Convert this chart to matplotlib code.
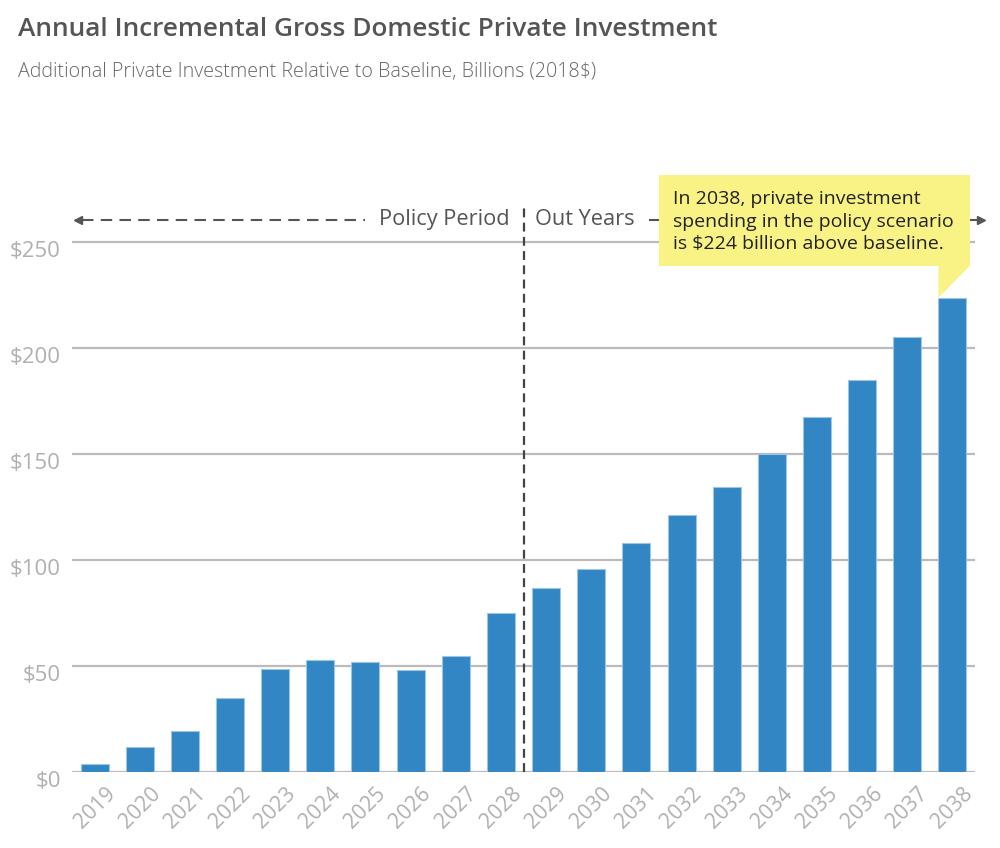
import matplotlib
matplotlib.use("Agg")
import matplotlib.pyplot as plt
from matplotlib.patches import Polygon, Rectangle
import matplotlib.transforms as mtransforms

plt.rcParams['font.family'] = ['Open Sans', 'DejaVu Sans']

years = [str(y) for y in range(2019, 2039)]
values = [3.8, 11.6, 19.2, 34.7, 48.6, 52.7, 51.9, 48.1, 54.8, 74.9,
          86.7, 95.8, 108.0, 121.1, 134.3, 149.8, 167.6, 185.1, 205.2, 223.7]
yticks = [0, 50, 100, 150, 200, 250]
ytick_labels = ['$0', '$50', '$100', '$150', '$200', '$250']

title = "Annual Incremental Gross Domestic Private Investment"
subtitle = "Additional Private Investment Relative to Baseline, Billions (2018$)"
callout = "In 2038, private investment\nspending in the policy scenario\nis $224 billion above baseline."

W, H = 1000, 848
fig = plt.figure(figsize=(W / 100, H / 100), dpi=100)
left_px, right_px, bottom_px = 72, 975, 772
ymax = 300
ppu = 2.12
top_px = bottom_px - ymax * ppu
ax = fig.add_axes([left_px / W, 1 - bottom_px / H, (right_px - left_px) / W, (bottom_px - top_px) / H])

x = list(range(len(years)))
ax.bar(x, values, width=0.62, color='#3186c3', edgecolor='#9cc5e6', linewidth=0.8, zorder=3)
ax.set_xlim(-0.5, len(years) - 0.5)
ax.set_ylim(0, ymax)
ax.set_yticks(yticks)
ax.set_yticklabels(ytick_labels)
ax.set_xticks(x)
ax.set_xticklabels(years, rotation=45, ha='right', rotation_mode='anchor')
ax.tick_params(axis='y', length=0, labelsize=16, labelcolor='#b0b0b0', pad=8)
ax.tick_params(axis='x', length=0, labelsize=15.3, labelcolor='#b0b0b0', pad=8)
shift = mtransforms.ScaledTranslation(0, -7 / 100, fig.dpi_scale_trans)
for lbl in ax.get_yticklabels():
    lbl.set_transform(lbl.get_transform() + shift)
xshift = mtransforms.ScaledTranslation(10 / 100, 0, fig.dpi_scale_trans)
for lbl in ax.get_xticklabels():
    lbl.set_transform(lbl.get_transform() + xshift)
for s in ax.spines.values():
    s.set_visible(False)
for t in yticks:
    ax.axhline(t, color='#bbbbbb', lw=1.6, zorder=1)

# divider
div = 9.5
ax.plot([div, div], [0, 266], ls=(0, (4.0, 2.4)), color='#444444', lw=1.6, zorder=4)

# arrows
ya = 260.4
dash = (0, (5.5, 3.5))
ax.plot([-0.28, 6.0], [ya, ya], ls=dash, color='#555555', lw=1.5, zorder=4, clip_on=False)
ax.plot([-0.36], [ya], marker='<', ms=6, color='#555555', clip_on=False, zorder=4)
ax.text(9.2, ya, "Policy Period", ha='right', va='center', fontsize=15.7, color='#555555')
ax.text(9.76, ya, "Out Years", ha='left', va='center', fontsize=15.7, color='#555555')
ax.plot([12.3, 12.5], [ya, ya], color='#555555', lw=1.5, zorder=4, clip_on=False)
ax.plot([19.4, 19.6], [ya, ya], color='#555555', lw=1.5, zorder=4, clip_on=False)
ax.plot([19.64], [ya], marker='>', ms=6, color='#555555', clip_on=False, zorder=4)

# callout box
bx0, bx1 = 12.5, 19.39
by0, by1 = 238.6, 281.6
ax.add_patch(Rectangle((bx0, by0), bx1 - bx0, by1 - by0, facecolor='#f9f285', edgecolor='none', zorder=5, clip_on=False))
ax.add_patch(Polygon([(18.69, by0 + 0.3), (bx1, by0 + 0.3), (18.69, values[-1])], closed=True,
                     facecolor='#f9f285', edgecolor='none', zorder=5, clip_on=False))
ax.text(12.82, 259.6, callout, ha='left', va='center', fontsize=14, color='#222222',
        linespacing=1.3, zorder=6)

fig.text(18 / W, 1 - 29 / H, title, ha='left', va='center', fontsize=18.9, color='#555555', fontweight='semibold')
fig.text(18 / W, 1 - 72 / H, subtitle, ha='left', va='center', fontsize=14.1, color='#666666', fontweight='light')

fig.savefig('out.png', dpi=100)
